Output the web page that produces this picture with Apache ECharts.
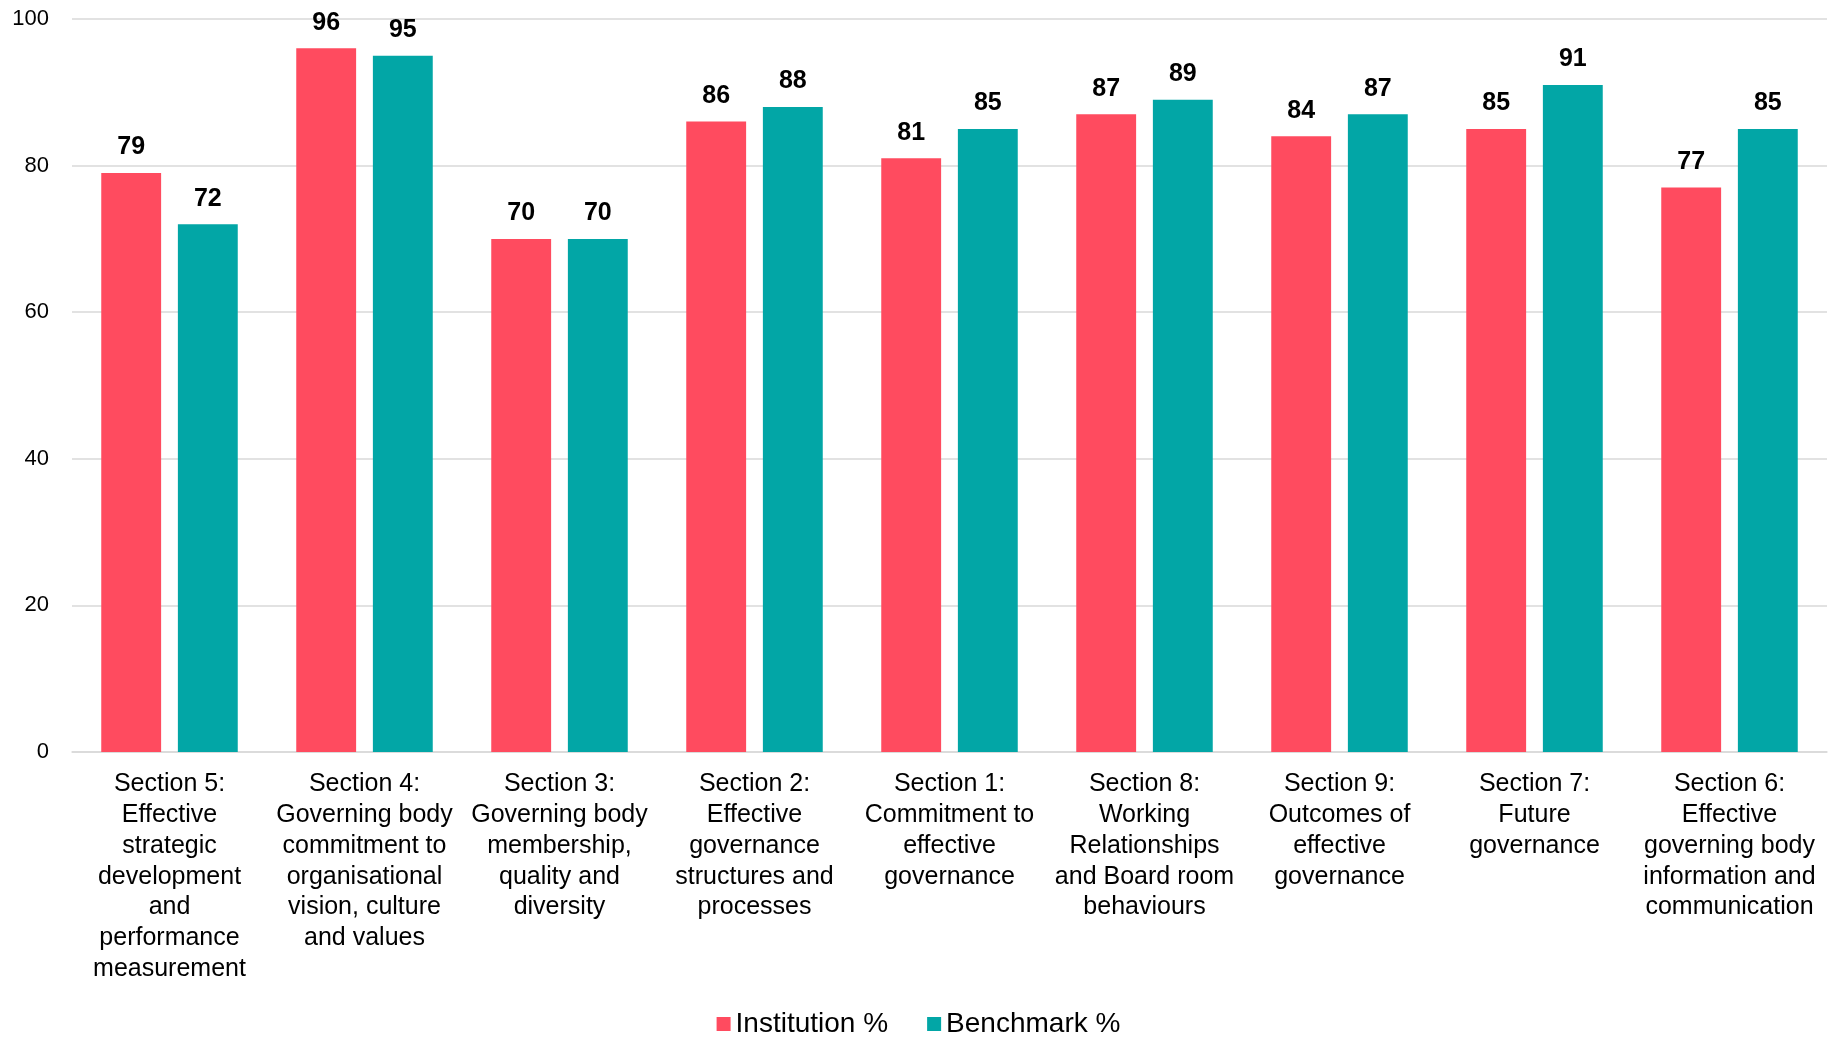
<!DOCTYPE html>
<html>
<head>
<meta charset="utf-8">
<script src="https://cdn.jsdelivr.net/npm/echarts@6/dist/echarts.min.js"></script>
<style>
html,body{margin:0;padding:0;background:#fff;}
#chart{width:1837px;height:1038px;}
</style>
</head>
<body>
<div id="chart"></div>
<script>
const categories = [
  "Section 5:\nEffective\nstrategic\ndevelopment\nand\nperformance\nmeasurement",
  "Section 4:\nGoverning body\ncommitment to\norganisational\nvision, culture\nand values",
  "Section 3:\nGoverning body\nmembership,\nquality and\ndiversity",
  "Section 2:\nEffective\ngovernance\nstructures and\nprocesses",
  "Section 1:\nCommitment to\neffective\ngovernance",
  "Section 8:\nWorking\nRelationships\nand Board room\nbehaviours",
  "Section 9:\nOutcomes of\neffective\ngovernance",
  "Section 7:\nFuture\ngovernance",
  "Section 6:\nEffective\ngoverning body\ninformation and\ncommunication"
];
const institution = [79, 96, 70, 86, 81, 87, 84, 85, 77];
const benchmark = [72, 95, 70, 88, 85, 89, 87, 91, 85];
const seriesNames = ["Institution %", "Benchmark %"];
const yTicks = {min: 0, max: 100, interval: 20};

const FONT = "'Liberation Sans', Arial, sans-serif";
const chart = echarts.init(document.getElementById('chart'));
const labelStyle = {
  show: true, position: 'top', distance: 13,
  fontFamily: FONT, fontSize: 25, fontWeight: 'bold', color: '#000'
};
chart.setOption({
  animation: false,
  backgroundColor: '#fff',
  grid: {left: 72, right: 10, top: 19, bottom: 286, containLabel: false},
  legend: {
    bottom: 0, left: 'center', padding: 0,
    itemWidth: 14, itemHeight: 14, itemGap: 39,
    icon: 'rect',
    textStyle: {fontFamily: FONT, fontSize: 28, lineHeight: 28, color: '#000'},
    data: seriesNames
  },
  xAxis: {
    type: 'category',
    data: categories,
    axisLine: {lineStyle: {color: '#d9d9d9', width: 1.5}},
    axisTick: {show: false},
    axisLabel: {
      interval: 0, margin: 17,
      fontFamily: FONT, fontSize: 25, lineHeight: 30.8, color: '#000', align: 'center'
    }
  },
  yAxis: {
    type: 'value',
    min: yTicks.min, max: yTicks.max, interval: yTicks.interval,
    axisLine: {show: false},
    axisTick: {show: false},
    splitLine: {lineStyle: {color: '#d9d9d9', width: 1.5}},
    axisLabel: {margin: 23, fontFamily: FONT, fontSize: 22, color: '#000'}
  },
  series: [
    {
      name: seriesNames[0], type: 'bar', data: institution,
      barCategoryGap: '30%', barGap: '28%',
      itemStyle: {color: '#FF4B5F'},
      label: labelStyle
    },
    {
      name: seriesNames[1], type: 'bar', data: benchmark,
      barCategoryGap: '30%', barGap: '28%',
      itemStyle: {color: '#02A6A6'},
      label: labelStyle
    }
  ]
});
</script>
</body>
</html>
